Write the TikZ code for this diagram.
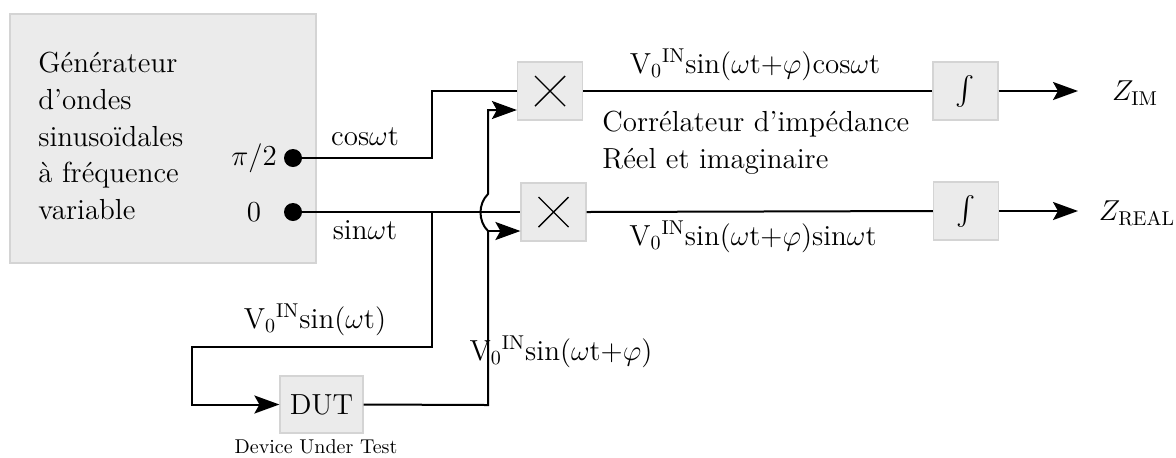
\documentclass[tikz,border=0pt]{standalone}
\usepackage{exscale}
\usetikzlibrary{arrows.meta,positioning,calc}
\definecolor{boxfill}{rgb}{0.92,0.92,0.92}
\definecolor{boxline}{rgb}{0.83,0.83,0.83}

\begin{document}
\begin{tikzpicture}[x=0.5pt,y=0.5pt,yscale=-1,
		font=\fontsize{14.5}{18.3}\selectfont,
		wire/.style={line width=1pt},
		arr/.style={wire,-{Stealth[length=12.5pt,width=9pt,inset=2.5pt]}},
		blk/.style={draw=boxline,fill=boxfill,line width=0.6pt,minimum width=32.5pt,minimum height=29pt,inner sep=0pt},
		mulblk/.style={blk,path picture={\draw[black,line width=0.7pt] ($(path picture bounding box.center)+(-7.5pt,-7.5pt)$) -- ++(15pt,15pt) ($(path picture bounding box.center)+(-7.5pt,7.5pt)$) -- ++(15pt,-15pt);}},
		port/.style={circle,fill=black,inner sep=0pt,minimum size=9pt}]
		\useasboundingbox (0,0) rectangle (1176,457);
		
		%Shape: generator
		\node[blk,minimum width=153pt,minimum height=124.5pt] (gen) at (163,138.5) {};
		\node[anchor=west,align=left,inner sep=0pt] (gentext) at (38,136) {Générateur\\d'ondes\\sinusoïdales\\à fréquence\\variable};
		\node (pAlab) at (254,158) {$\pi$/2};
		\node (p0lab) at (254,212) {0};
		
		%Shape: blocks
		\node[mulblk] (mulA) at (550,91) {};
		\node[mulblk] (mulB) at (553.5,212) {};
		\node[blk] (intA) at (965.5,91) {\fontsize{15}{15}\selectfont$\int$};
		\node[blk] (intB) at (966,211) {\fontsize{15}{15}\selectfont$\int$};
		\node[blk,minimum width=41.5pt,minimum height=28.5pt] (dut) at (321.5,404.5) {DUT};
		\node (devlab) at (316,447) {\fontsize{10}{12}\selectfont Device Under Test};
		\node (zim) at (1135,93) {$Z_{\mathrm{IM}}$};
		\node (zreal) at (1137,213) {$Z_{\mathrm{REAL}}$};
		
		\coordinate (cosbend) at (432,158);
		\coordinate (tap) at (432,212);
		\coordinate (loopR) at (432,347);
		\coordinate (loopL) at (192,347);
		\coordinate (rise) at (488,405);
		\coordinate (split) at (488,231);
		\coordinate (jmp) at (488,194);
		\coordinate (zimtip) at (1078,91);
		\coordinate (zrealtip) at (1078,211);
		
		%Straight Lines
		\draw[wire] (293,158) -- (cosbend) |- (mulA.west);
		\draw[wire] (293,212) -- (mulB.west);
		\draw[arr] (tap) -- (loopR) -- (loopL) |- (dut.west);
		\draw[wire] (dut.east) -- (rise) -- (split);
		\draw[arr] (split) -- ([yshift=9.5pt]mulB.west);
		\draw[arr] (split) .. controls (478,221) and (478,204) .. (jmp) |- ([yshift=9.5pt]mulA.west);
		\draw[wire] (mulA.east) -- (intA.west);
		\draw[wire] (mulB.east) -- (intB.west);
		\draw[arr] (intA.east) -- (zimtip);
		\draw[arr] (intB.east) -- (zrealtip);
		
		%Shape: ports
		\node[port] (pA) at (293,158) {};
		\node[port] (p0) at (293,212) {};
		
		% Text Node
		\node (coslab) at (365,137) {cos$\omega$t};
		\node (sinlab) at (365,230) {sin$\omega$t};
		\node (prodA) at (755,65) {V$_0{}^{\mathrm{IN}}$sin($\omega$t+$\varphi$)cos$\omega$t};
		\node (prodB) at (753,237) {V$_0{}^{\mathrm{IN}}$sin($\omega$t+$\varphi$)sin$\omega$t};
		\node[anchor=west,align=left,inner sep=0pt] (corr) at (602,143) {Corrélateur d'impédance\\Réel et imaginaire};
		\node (vin) at (315,320) {V$_0{}^{\mathrm{IN}}$sin($\omega$t)};
		\node (vout) at (561,352) {V$_0{}^{\mathrm{IN}}$sin($\omega$t+$\varphi$)};
		
\end{tikzpicture}
\end{document}
